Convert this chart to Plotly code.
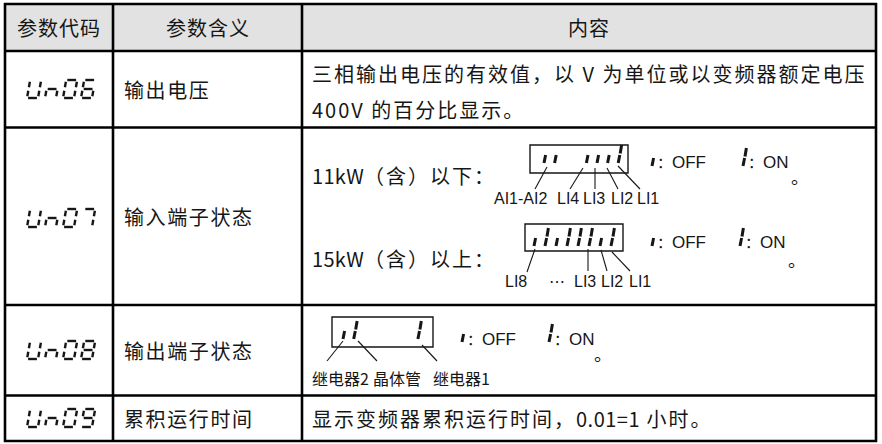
import plotly.graph_objects as go

W, H = 882, 444
CJK = "Noto Sans CJK SC"
LAT = "Liberation Sans"
INK = "#161616"

# ---------------- data ----------------
header = ["参数代码", "参数含义", "内容"]
codes = ["Un06", "Un07", "Un08", "Un09"]
names = ["输出电压", "输入端子状态", "输出端子状态", "累积运行时间"]
content_un06 = ["三相输出电压的有效值，以 V 为单位或以变频器额定电压", "400V 的百分比显示。"]
content_un07 = [("11kW", "（含）以下："), ("15kW", "（含）以上：")]
content_un09 = ("显示变频器累积运行时间，", "0.01=1", " 小时。")
# display states: 0 = OFF segment, 1 = ON segment, None = blank position
states_11kw = [0, 0, None, None, 0, 0, 0, 1]
states_15kw = [0, 1, 0, 1, 1, 1, 0, 1]
states_out = [0, 1, None, None, None, None, None, 1]
labels_11kw = ["AI1-AI2", "LI4", "LI3", "LI2", "LI1"]
labels_15kw = ["LI8", "⋯", "LI3", "LI2", "LI1"]
labels_out = ["继电器2", "晶体管", "继电器1"]
legend_words = ["OFF", "ON"]

# ---------------- layout geometry ----------------
col_x = [5, 113, 302, 876]
row_y = [4, 51, 127.5, 305, 395.5, 441]

shapes = []
annotations = []


def line(x0, y0, x1, y1, w=1.2, color=INK):
    shapes.append(dict(type="line", xref="x", yref="y", x0=x0, y0=y0, x1=x1, y1=y1,
                       line=dict(color=color, width=w), layer="above"))


def rect(x0, y0, x1, y1, w=1.4, fill=None, color=INK):
    d = dict(type="rect", xref="x", yref="y", x0=x0, y0=y0, x1=x1, y1=y1,
             line=dict(color=color, width=w), layer="above" if fill is None else "below")
    if fill:
        d["fillcolor"] = fill
        d["line"] = dict(width=0)
    shapes.append(d)


def sp(s, spacing):
    return '<span style="letter-spacing:%spx">%s</span>' % (spacing, s)


def txt(x, y, s, size=20, font=CJK, xanchor="left", spacing=None, color=INK):
    if spacing:
        s = sp(s, spacing)
    annotations.append(dict(x=x, y=y, xref="x", yref="y", text=s, showarrow=False,
                            xanchor=xanchor, yanchor="middle", borderpad=0,
                            font=dict(family=font, size=size, color=color)))


# header background
rect(col_x[0], row_y[0], col_x[3], row_y[1], fill="#e2e2e2")

# grid
for yy in row_y:
    line(col_x[0] - 1, yy, col_x[3] + 1, yy, w=2.6, color="#000")
for xx in col_x:
    line(xx, row_y[0] - 1, xx, row_y[-1] + 1, w=2.6, color="#000")

# header text
for i, h in enumerate(header):
    txt((col_x[i] + col_x[i + 1]) / 2, 27.5, h, size=20, xanchor="center", spacing=1)

# ---- seven segment code glyphs ----
SEG = {'U': 'bcdef', 'n': 'ceg', '0': 'abcdef', '6': 'acdefg', '7': 'abc',
       '8': 'abcdefg', '9': 'abcdfg'}
g = 0.1
SEGXY = {
    'a': ((g, 1), (1 - g, 1)), 'b': ((1, 1 - g), (1, 0.5 + g)),
    'c': ((1, 0.5 - g), (1, g)), 'd': ((g, 0), (1 - g, 0)),
    'e': ((0, 0.5 - g), (0, g)), 'f': ((0, 1 - g), (0, 0.5 + g)),
    'g': ((g, 0.5), (1 - g, 0.5)),
}


def seven(code, x0, ybase, w=11, h=18, slant=3.2, pitch=18):
    for k, ch in enumerate(code):
        cx = x0 + k * pitch
        for s in SEG[ch]:
            (u0, v0), (u1, v1) = SEGXY[s]
            line(cx + u0 * w + v0 * slant, ybase - v0 * h,
                 cx + u1 * w + v1 * slant, ybase - v1 * h, w=2.4)


code_base = [98, 227, 359, 427]
for code, yb in zip(codes, code_base):
    seven(code, 27, yb)

# names column
name_y = [89, 216, 350, 418]
for n, yy in zip(names, name_y):
    txt(123, yy, n, size=20, spacing=1.6)

# ---- state glyphs ----
def state_glyph(x, ybase, on, short=8, tall=18, w=3.0):
    line(x, ybase, x + 1.6, ybase - short, w=w)
    if on:
        line(x + 2.0, ybase - short - 1.5, x + 3.4, ybase - tall, w=w)


def display(states, x_first, pitch, ybase):
    for i, st in enumerate(states):
        if st is None:
            continue
        state_glyph(x_first + i * pitch, ybase, st)


def legend(x_off, x_on, ybase, ytext):
    lat = "<span style=\"font-family:'%s';font-size:17px\">%s</span>"
    state_glyph(x_off, ybase, 0)
    txt(x_off + 4, ytext, "：" + lat % (LAT, legend_words[0]), size=15)
    state_glyph(x_on, ybase, 1)
    txt(x_on + 4, ytext, "：" + lat % (LAT, legend_words[1]), size=15)


CS = 2.0  # letter spacing of content text

# Un06 content
txt(311, 73, content_un06[0], size=20, spacing=CS)
txt(311, 109, content_un06[1], size=20, spacing=CS)

# Un07 content
for (lat_part, cjk_part), yy in zip(content_un07, [175, 258]):
    txt(311, yy, sp(lat_part, 0.3) + sp(cjk_part, CS), size=20)

# 11kW display
rect(530, 145, 628, 173)
display(states_11kw, 544, 10.6, 163)
leaders_11 = [((547, 167), (535, 189)), ((583, 168), (570, 189)), ((595, 168), (595, 189)),
              ((607, 168), (618, 189)), ((618, 166), (640, 189))]
for (a, b) in leaders_11:
    line(a[0], a[1], b[0], b[1], w=1.1)
for lab, cx in zip(labels_11kw, [520, 568, 594, 622, 648]):
    txt(cx, 198, lab, size=16, font=LAT, xanchor="center")
legend(652, 743, 166, 161)
txt(790, 176, "。", size=18)

# 15kW display
rect(525, 224, 623, 251)
display(states_15kw, 534, 11, 246)
leaders_15 = [((535, 249), (527, 272)), ((588, 249), (588, 271)),
              ((601, 250), (607, 271)), ((612, 252), (630, 271))]
for (a, b) in leaders_15:
    line(a[0], a[1], b[0], b[1], w=1.1)
for lab, cx in zip(labels_15kw, [516, 557, 585, 612, 640]):
    txt(cx, 281, lab, size=16, font=LAT, xanchor="center")
legend(652, 740, 246, 241)
txt(787, 259, "。", size=18)

# Un08 display
rect(332, 317, 433, 347)
display(states_out, 343, 10.7, 339)
leaders_out = [((343, 341), (327, 361)), ((358, 341), (377, 361)), ((422, 345), (437, 361))]
for (a, b) in leaders_out:
    line(a[0], a[1], b[0], b[1], w=1.1)
for lab, cx in zip(labels_out, [340, 397, 461]):
    txt(cx, 378, lab, size=16, xanchor="center")
legend(462, 549, 342, 338)
txt(593, 353, "。", size=18)

# Un09 content
txt(311, 418, sp(content_un09[0], CS) + sp(content_un09[1], 0.5) + sp(content_un09[2], CS), size=20)

fig = go.Figure()
fig.update_layout(
    width=W, height=H, margin=dict(l=0, r=0, t=0, b=0),
    paper_bgcolor="white", plot_bgcolor="white",
    xaxis=dict(range=[0, W], visible=False, fixedrange=True),
    yaxis=dict(range=[H, 0], visible=False, fixedrange=True),
    shapes=shapes, annotations=annotations, showlegend=False,
)
fig.write_html("out.html", config={"displayModeBar": False},
               post_script="document.body.style.margin='0';document.body.style.overflow='hidden';")
